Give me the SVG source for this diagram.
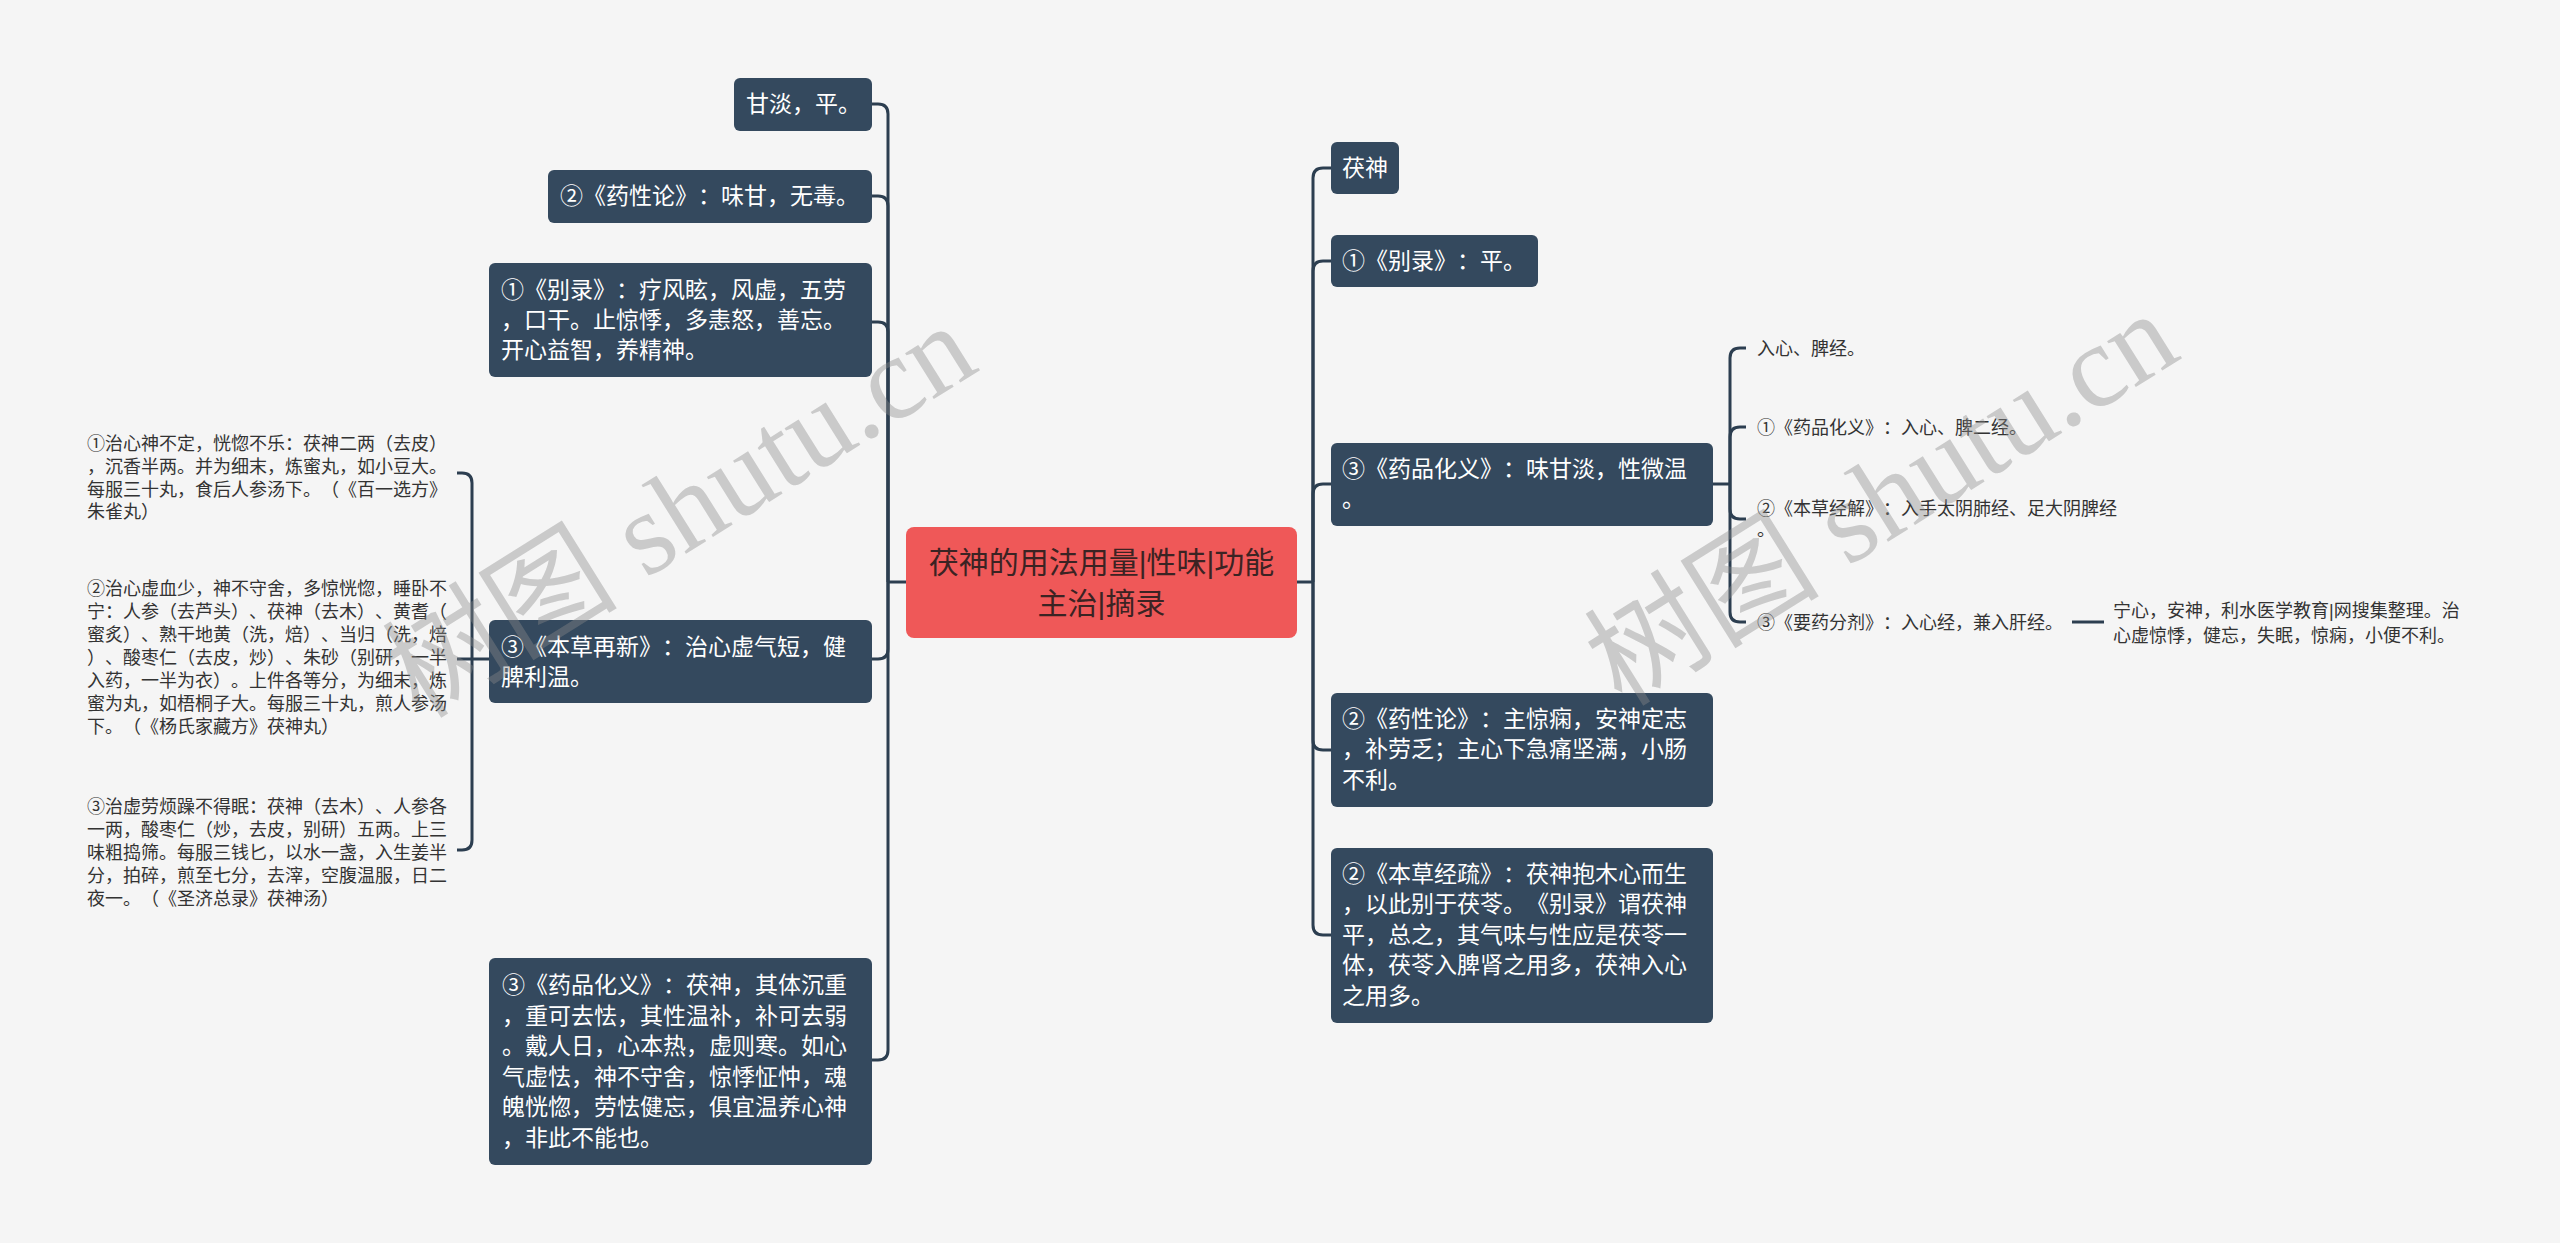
<svg xmlns="http://www.w3.org/2000/svg" width="2560" height="1243" viewBox="0 0 2560 1243">
<style>
text{text-spacing-trim:space-all}
.bg{fill:#f5f5f5}
.node rect{fill:#34495e}
.node text{fill:#ffffff;font-family:'Liberation Sans','Noto Sans CJK SC',sans-serif;font-size:23px}
.root rect{fill:#ef5858}
.root text{fill:#3b2323;font-family:'Liberation Sans','Noto Sans CJK SC',sans-serif;font-size:30px}
.leaf text{fill:#333333;font-family:'Liberation Sans','Noto Sans CJK SC',sans-serif;font-size:18px}
.conn path{fill:none;stroke:#2c3e50;stroke-width:3}
.wm{fill:#8a8a8a;fill-opacity:0.4;font-family:'Liberation Serif','Noto Sans CJK SC',serif;font-size:118px}
</style>
<rect class="bg" x="0" y="0" width="2560" height="1243"/>
<g id="connectors" class="conn">
<path d="M906 582H888"/>
<path d="M1297 582H1313"/>
<path d="M888 582V114Q888 104 878 104H872"/>
<path d="M888 582V206Q888 196 878 196H872"/>
<path d="M888 582V332Q888 322 878 322H872"/>
<path d="M888 582V649Q888 659 878 659H872"/>
<path d="M888 582V1050Q888 1060 878 1060H872"/>
<path d="M489 659H472"/>
<path d="M472 659V483Q472 473 462 473H457"/>
<path d="M472 659H457"/>
<path d="M472 659V840Q472 850 462 850H457"/>
<path d="M1313 582V178Q1313 168 1323 168H1331"/>
<path d="M1313 582V271Q1313 261 1323 261H1331"/>
<path d="M1313 582V494Q1313 484 1323 484H1331"/>
<path d="M1313 582V740Q1313 750 1323 750H1331"/>
<path d="M1313 582V925Q1313 935 1323 935H1331"/>
<path d="M1713 484H1730"/>
<path d="M1730 484V358Q1730 348 1740 348H1746"/>
<path d="M1730 484V437Q1730 427 1740 427H1746"/>
<path d="M1730 484V509Q1730 519 1740 519H1746"/>
<path d="M1730 484V612Q1730 622 1740 622H1746"/>
<path d="M2072 622H2104"/>
</g>
<g id="root" class="root">
<rect x="906" y="527" width="391" height="111" rx="8"/>
<text x="1101.5" y="573" text-anchor="middle">茯神的用法用量|性味|功能</text>
<text x="1101.5" y="614" text-anchor="middle">主治|摘录</text>
</g>
<g id="L1" class="node">
<rect x="734" y="78" width="138" height="53" rx="6"/>
<text x="746" y="112">甘淡，平。</text>
</g>
<g id="L2" class="node">
<rect x="548" y="170" width="324" height="53" rx="6"/>
<text x="560" y="204">②《药性论》：味甘，无毒。</text>
</g>
<g id="L3" class="node">
<rect x="489" y="263" width="383" height="114" rx="6"/>
<text x="501" y="298">①《别录》：疗风眩，风虚，五劳</text>
<text x="501" y="328">，口干。止惊悸，多恚怒，善忘。</text>
<text x="501" y="358">开心益智，养精神。</text>
</g>
<g id="L4" class="node">
<rect x="489" y="620" width="383" height="83" rx="6"/>
<text x="501" y="655">③《本草再新》：治心虚气短，健</text>
<text x="501" y="685">脾利温。</text>
</g>
<g id="L4a" class="leaf">
<text x="87" y="450">①治心神不定，恍惚不乐：茯神二两（去皮）</text>
<text x="87" y="473">，沉香半两。并为细末，炼蜜丸，如小豆大。</text>
<text x="87" y="496">每服三十丸，食后人参汤下。（《百一选方》</text>
<text x="87" y="518">朱雀丸）</text>
</g>
<g id="L4b" class="leaf">
<text x="87" y="595">②治心虚血少，神不守舍，多惊恍惚，睡卧不</text>
<text x="87" y="618">宁：人参（去芦头）、茯神（去木）、黄耆（</text>
<text x="87" y="641">蜜炙）、熟干地黄（洗，焙）、当归（洗，焙</text>
<text x="87" y="664">）、酸枣仁（去皮，炒）、朱砂（别研，一半</text>
<text x="87" y="687">入药，一半为衣）。上件各等分，为细末，炼</text>
<text x="87" y="710">蜜为丸，如梧桐子大。每服三十丸，煎人参汤</text>
<text x="87" y="733">下。（《杨氏家藏方》茯神丸）</text>
</g>
<g id="L4c" class="leaf">
<text x="87" y="813">③治虚劳烦躁不得眠：茯神（去木）、人参各</text>
<text x="87" y="836">一两，酸枣仁（炒，去皮，别研）五两。上三</text>
<text x="87" y="859">味粗捣筛。每服三钱匕，以水一盏，入生姜半</text>
<text x="87" y="882">分，拍碎，煎至七分，去滓，空腹温服，日二</text>
<text x="87" y="905">夜一。（《圣济总录》茯神汤）</text>
</g>
<g id="L5" class="node">
<rect x="489" y="958" width="383" height="207" rx="6"/>
<text x="502" y="993">③《药品化义》：茯神，其体沉重</text>
<text x="502" y="1024">，重可去怯，其性温补，补可去弱</text>
<text x="502" y="1054">。戴人日，心本热，虚则寒。如心</text>
<text x="502" y="1085">气虚怯，神不守舍，惊悸怔忡，魂</text>
<text x="502" y="1115">魄恍惚，劳怯健忘，俱宜温养心神</text>
<text x="502" y="1146">，非此不能也。</text>
</g>
<g id="R1" class="node">
<rect x="1331" y="142" width="68" height="52" rx="6"/>
<text x="1342" y="176">茯神</text>
</g>
<g id="R2" class="node">
<rect x="1331" y="235" width="207" height="52" rx="6"/>
<text x="1342" y="269">①《别录》：平。</text>
</g>
<g id="R3" class="node">
<rect x="1331" y="443" width="382" height="83" rx="6"/>
<text x="1342" y="477">③《药品化义》：味甘淡，性微温</text>
<text x="1342" y="507">。</text>
</g>
<g id="R3a" class="leaf">
<text x="1757" y="355">入心、脾经。</text>
</g>
<g id="R3b" class="leaf">
<text x="1757" y="434">①《药品化义》：入心、脾二经。</text>
</g>
<g id="R3c" class="leaf">
<text x="1757" y="515">②《本草经解》：入手太阴肺经、足大阴脾经</text>
<text x="1757" y="536">。</text>
</g>
<g id="R3d" class="leaf">
<text x="1757" y="629">③《要药分剂》：入心经，兼入肝经。</text>
</g>
<g id="R3d1" class="leaf">
<text x="2113" y="617">宁心，安神，利水医学教育|网搜集整理。治</text>
<text x="2113" y="642">心虚惊悸，健忘，失眠，惊痫，小便不利。</text>
</g>
<g id="R4" class="node">
<rect x="1331" y="693" width="382" height="114" rx="6"/>
<text x="1342" y="727">②《药性论》：主惊痫，安神定志</text>
<text x="1342" y="757">，补劳乏；主心下急痛坚满，小肠</text>
<text x="1342" y="788">不利。</text>
</g>
<g id="R5" class="node">
<rect x="1331" y="848" width="382" height="175" rx="6"/>
<text x="1342" y="882">②《本草经疏》：茯神抱木心而生</text>
<text x="1342" y="912">，以此别于茯苓。《别录》谓茯神</text>
<text x="1342" y="943">平，总之，其气味与性应是茯苓一</text>
<text x="1342" y="973">体，茯苓入脾肾之用多，茯神入心</text>
<text x="1342" y="1004">之用多。</text>
</g>
<g id="watermark">
<text class="wm" transform="translate(420,720) rotate(-32)">树图 shutu.cn</text>
<text class="wm" transform="translate(1622,708) rotate(-32)">树图 shutu.cn</text>
</g>
</svg>
